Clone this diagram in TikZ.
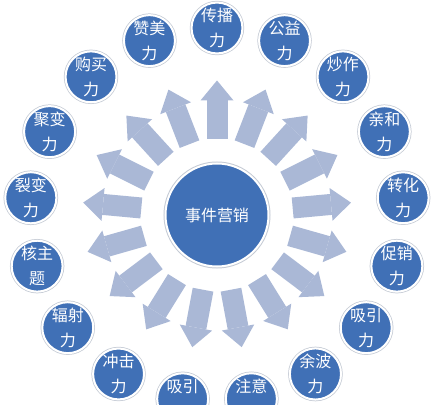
\documentclass[tikz,border=0pt]{standalone}
\usepackage{fontspec}
\setmainfont{Noto Sans CJK SC}
\usetikzlibrary{arrows.meta, positioning, calc}
\definecolor{circleblue}{RGB}{64,112,182}
\definecolor{arrowblue}{RGB}{170,184,214}
\definecolor{rimgray}{RGB}{196,202,212}

\begin{document}
\begin{tikzpicture}[
        x=1pt, y=1pt,
        hub/.style={circle, fill=circleblue, draw=white, line width=2pt, minimum size=103pt, inner sep=0pt, text=white, font=\fontsize{16}{20}\selectfont, preaction={draw=rimgray, line width=4pt}},
        power/.style={circle, fill=circleblue, draw=white, line width=2pt, minimum size=50pt, inner sep=0pt, text=white, align=center, font=\fontsize{16}{25}\selectfont, preaction={draw=rimgray, line width=3.5pt}},
        spoke/.style={line width=21pt, arrowblue, -{Triangle[width=33pt, length=20pt, line width=0pt]}, shorten <=23.5pt, shorten >=26pt}
    ]
    \useasboundingbox (0,0) rectangle (432,405);
    \node[hub] (event) at (217,190) {事件营销};

    % outer ring, clockwise from the top
    \foreach \txt [count=\i from 0] in {{传播\\力}, {公益\\力}, {炒作\\力}, {亲和\\力}, {转化\\力}, {促销\\力}, {吸引\\力}, {余波\\力}, {注意\\\phantom{力}}, {吸引\\\phantom{力}}, {冲击\\力}, {辐射\\力}, {核主\\题}, {裂变\\力}, {聚变\\力}, {购买\\力}, {赞美\\力}} {
        \pgfmathsetmacro{\ang}{90-\i*360/17}
        \node[power] (pw\i) at ($(event)+(\ang:187pt)$) {\txt};
        \draw[spoke] (event) -- (pw\i);
    }
\end{tikzpicture}
\end{document}
